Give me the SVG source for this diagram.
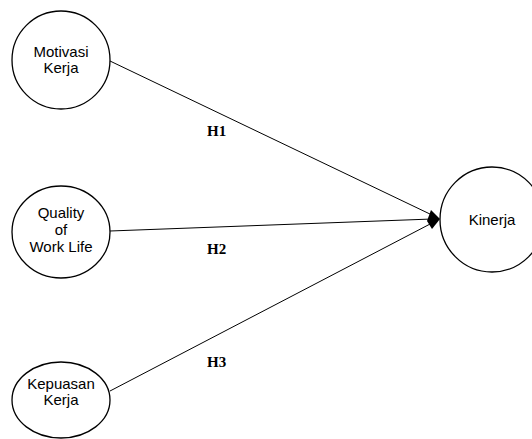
<svg xmlns="http://www.w3.org/2000/svg" width="532" height="439" viewBox="0 0 532 439">
<style>
.node{fill:#fff;stroke:#000;stroke-width:1.3}
.lbl{font-family:"Liberation Sans",Arial,sans-serif;font-size:15px;fill:#000;text-anchor:middle}
.h{font-family:"Liberation Serif","Times New Roman",serif;font-size:15px;font-weight:bold;fill:#000}
.edge{stroke:#000;stroke-width:1;fill:none}
</style>
<rect width="532" height="439" fill="#fff"/>
<g id="connectors">
<line class="edge" x1="110" y1="61" x2="432" y2="215"/>
<line class="edge" x1="110" y1="231" x2="432" y2="219"/>
<line class="edge" x1="110" y1="391" x2="432" y2="223"/>
<polygon points="440,219 431,210 427,221 432,229" fill="#000"/>
<text class="h" x="207" y="136">H1</text>
<text class="h" x="207" y="254">H2</text>
<text class="h" x="207" y="367">H3</text>
</g>
<g id="motivasi">
<ellipse class="node" cx="61" cy="60" rx="49" ry="49"/>
<text class="lbl" x="61" y="57">Motivasi</text>
<text class="lbl" x="61" y="73">Kerja</text>
</g>
<g id="qwl">
<ellipse class="node" cx="61" cy="232" rx="49" ry="46"/>
<text class="lbl" x="61" y="218">Quality</text>
<text class="lbl" x="61" y="235">of</text>
<text class="lbl" x="61" y="252">Work Life</text>
</g>
<g id="kepuasan">
<ellipse class="node" cx="61" cy="400" rx="49" ry="38"/>
<text class="lbl" x="61" y="389">Kepuasan</text>
<text class="lbl" x="61" y="405">Kerja</text>
</g>
<g id="kinerja">
<ellipse class="node" cx="492" cy="219.5" rx="52" ry="52.5"/>
<text class="lbl" x="492" y="225">Kinerja</text>
</g>
</svg>
